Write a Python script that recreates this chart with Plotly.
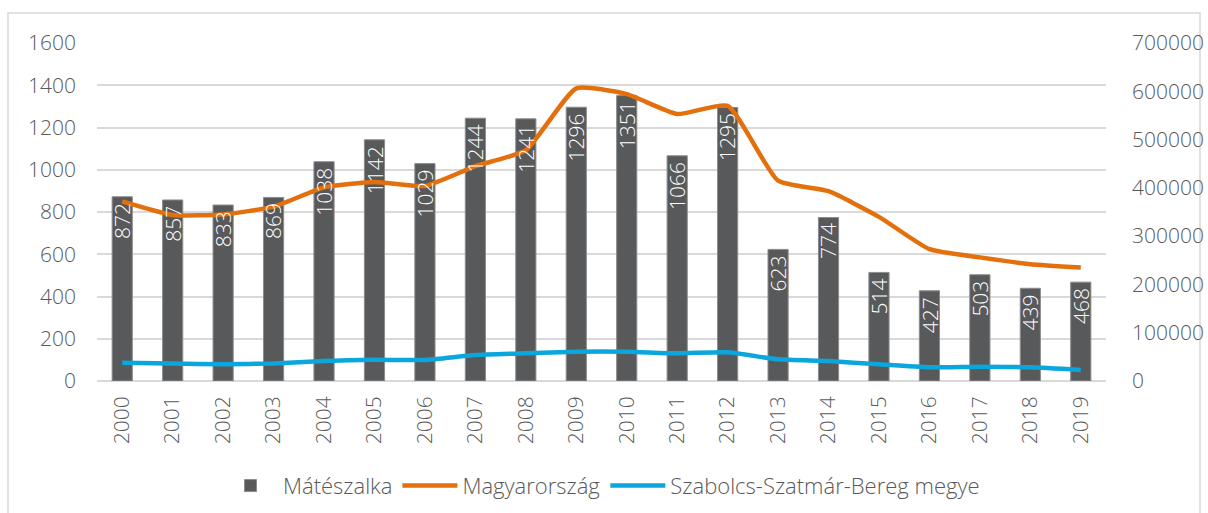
import plotly.graph_objects as go

years = [str(y) for y in range(2000, 2020)]
mateszalka = [872, 857, 833, 869, 1038, 1142, 1029, 1244, 1241, 1296, 1351, 1066, 1295, 623, 774, 514, 427, 503, 439, 468]
magyarorszag = [372000, 344000, 345000, 361000, 401000, 412000, 404000, 445000, 478000, 606000, 594000, 553000, 570000, 415000, 393000, 340000, 273000, 256000, 242000, 235000]
szabolcs = [38000, 36000, 34500, 36400, 41400, 44000, 43500, 53800, 57300, 60700, 60700, 57300, 59400, 44900, 41400, 34500, 28300, 29700, 28300, 22800]

FONT = "Open Sans"
GREY = "#595959"
FS = 21

fig = go.Figure()
fig.add_trace(go.Bar(
    x=years, y=mateszalka, name="Mátészalka",
    marker=dict(color="#58595b", line=dict(color="#8c8c8c", width=1)),
    yaxis="y",
))
fig.add_trace(go.Scatter(
    x=years, y=magyarorszag, name="Magyarország", mode="lines",
    line=dict(color="#E4700D", width=4.5, shape="spline", smoothing=0.5),
    yaxis="y2",
))
fig.add_trace(go.Scatter(
    x=years, y=szabolcs, name="Szabolcs-Szatmár-Bereg megye", mode="lines",
    line=dict(color="#0AA6DC", width=4.5, shape="spline", smoothing=0.5),
    yaxis="y2",
))

# category axis: annotation x given as category index
annotations = [
    dict(x=i, y=v, xref="x", yref="y", text=str(v), showarrow=False,
         textangle=-90, yanchor="top", xanchor="center", yshift=-4,
         font=dict(family=FONT, size=FS, color="white", weight=300))
    for i, v in enumerate(mateszalka)
]

fig.update_layout(
    width=1208, height=513,
    margin=dict(l=97, r=102, t=43, b=132, autoexpand=False),
    paper_bgcolor="white", plot_bgcolor="white",
    font=dict(family=FONT, size=FS, color=GREY, weight=300),
    bargap=0.6,
    showlegend=True,
    legend=dict(orientation="h", x=0.5, xanchor="center", y=-0.31, yanchor="middle",
                font=dict(family=FONT, size=22, color=GREY, weight=300), itemwidth=55,
                traceorder="normal", tracegroupgap=0),
    xaxis=dict(type="category", tickangle=-90, showgrid=False, showline=False,
               ticks="", ticklabelstandoff=10, automargin=False,
               tickfont=dict(family=FONT, size=FS, color=GREY, weight=300)),
    yaxis=dict(range=[0, 1600], dtick=200, showgrid=True, gridcolor="#d9d9d9", gridwidth=1.5,
               zeroline=True, zerolinecolor="#d9d9d9", zerolinewidth=2, automargin=False,
               tickfont=dict(family=FONT, size=FS, color=GREY, weight=300), ticks="", ticklabelstandoff=20),
    yaxis2=dict(range=[0, 700000], dtick=100000, overlaying="y", side="right", showgrid=False,
                zeroline=False, tickformat="d", automargin=False,
                tickfont=dict(family=FONT, size=FS, color=GREY, weight=300), ticks="", ticklabelstandoff=25),
    annotations=annotations,
    shapes=[dict(type="rect", xref="paper", yref="paper",
                 x0=(8 - 97) / 1009, x1=(1200 - 97) / 1009,
                 y0=(381 - 520) / 338, y1=(381 - 13) / 338,
                 line=dict(color="#d9d9d9", width=1.5), layer="below")],
)

fig.write_html("out.html")
